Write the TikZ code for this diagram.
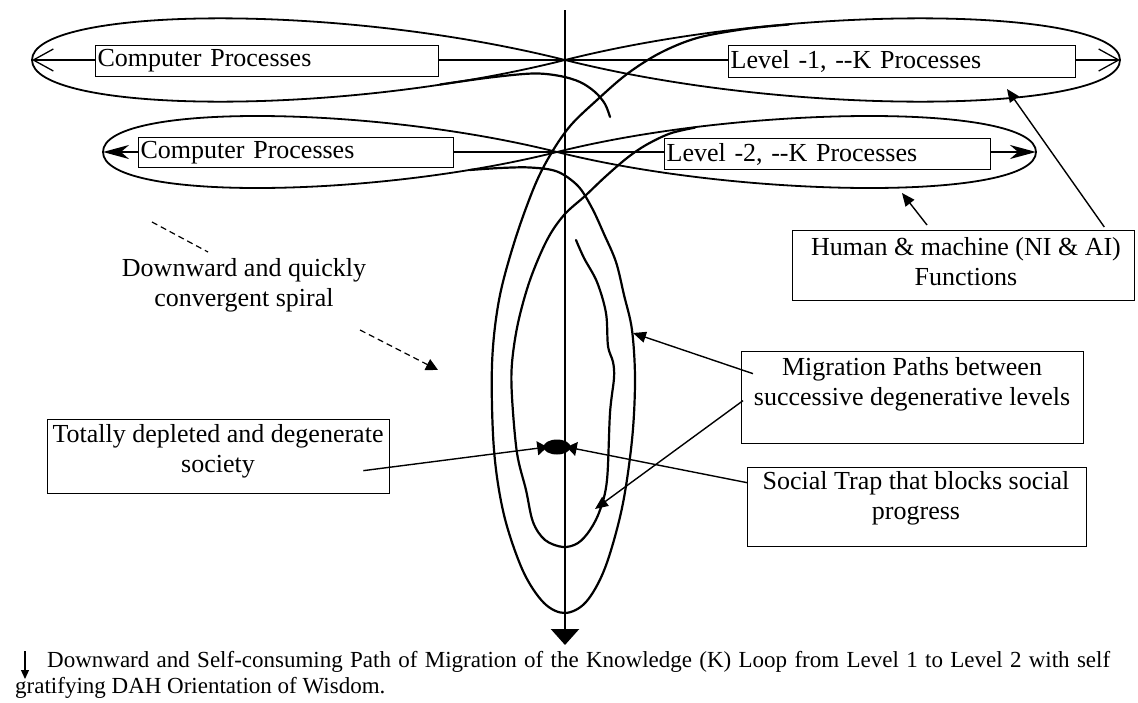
\documentclass[tikz,border=0pt]{standalone}
\usepackage{fontspec}
\setmainfont{Liberation Serif}
\usetikzlibrary{arrows.meta,shapes.geometric,calc}
\begin{document}
\begin{tikzpicture}[x=1pt,y=-1pt,
  lobe/.style={line width=1.8pt},
  spiral/.style={line width=2.2pt, line cap=round, line join=round},
  boxframe/.style={draw, line width=1.3pt, fill=white, inner sep=0pt, anchor=north west},
  onebox/.style={boxframe, inner xsep=2pt, align=left, font=\fontsize{26}{30}\selectfont},
  boxtext/.style={inner sep=0pt, align=center, font=\fontsize{26}{30}\selectfont},
  conn/.style={line width=1.4pt},
  headed/.style={-{Triangle[length=13pt,width=11pt]}},
  dashline/.style={line width=1.2pt, dash pattern=on 6pt off 4pt},
  legend/.style={anchor=base west, inner sep=0pt, font=\fontsize{23}{26}\selectfont},
]
\useasboundingbox (0,0) rectangle (1138,702);

% key points
\coordinate (c1) at (565,60);
\coordinate (lt1) at (32,60);
\coordinate (rt1) at (1120,60);
\coordinate (c2) at (557,152);
\coordinate (lt2) at (103,152);
\coordinate (rt2) at (1036,152);
\coordinate (axtop) at (565,10);
\coordinate (axbot) at (565,645);

% central axis
\draw[line width=2.4pt, -{Triangle[length=16pt,width=28pt]}] (axtop) -- (axbot);

% level 1 figure-eight loop
\draw[lobe] (c1) .. controls (330,1) and (32,8) .. (lt1)
  .. controls (32,112) and (330,119) .. (c1)
  .. controls (800,1) and (1120,8) .. (rt1)
  .. controls (1120,112) and (800,119) .. (c1);
% level 2 figure-eight loop
\draw[lobe] (c2) .. controls (370,105) and (103,103) .. (lt2)
  .. controls (103,201) and (370,199) .. (c2)
  .. controls (744,105) and (1036,103) .. (rt2)
  .. controls (1036,201) and (744,199) .. (c2);

% process axes of both levels
\draw[line width=1.3pt, {Straight Barb[length=20pt,width=22pt]}-{Straight Barb[length=20pt,width=22pt]}] (lt1) -- (rt1);
\draw[line width=1.6pt, {Stealth[length=26pt,width=14pt,inset=8pt]}-{Stealth[length=26pt,width=14pt,inset=8pt]}] (lt2) -- (rt2);

% short hook below level 1
\draw[spiral] plot[smooth, tension=0.55] coordinates {(440,84.5) (490,77.5) (533,73.5) (560,76) (580,82) (595,92) (605,104) (610,117)};
% outer migration path
\draw[spiral] plot[smooth, tension=0.55] coordinates {(470,170) (500,168) (530,167.5) (557,171.5) (578,186) (592,208) (604,234) (616,262) (624,295) (632,330) (635,380) (632,440) (622,508) (605,568) (586,602) (565,613) (544,603) (523,571) (504,515) (494,450) (492,365) (499,300) (515,240) (535,185) (552,152) (571,125) (597,100) (627,74) (660,53) (697,38) (745,29) (789,24.5)};
% inner migration path
\draw[spiral] plot[smooth, tension=0.55] coordinates {(695,127.6) (670,133.5) (646,145) (627,158) (605,177) (585,196) (564,215) (547,240) (530,280) (518,323) (512,363) (512,397) (517,453) (526,490) (533,522) (545,540) (563,547) (578,543) (590,530) (600,510) (607,480) (610,413) (614,378) (613,362) (608,346) (606,313) (597,282) (584,258) (576,240)};

% process boxes
\node[onebox, text width=339pt, minimum height=31pt] (cp1) at (95,45) {Computer Processes};
\node[onebox, text width=343pt, minimum height=32pt] (lv1) at (728,45) {Level -1, -{}-K Processes};
\node[onebox, text width=311pt, minimum height=30pt] (cp2) at (138,137) {Computer Processes};
\node[onebox, text width=322pt, minimum height=31pt] (lv2) at (664,138) {Level -2, -{}-K Processes};

% annotation boxes
\node[boxframe, minimum width=342pt, minimum height=70pt] (hum) at (792,230) {};
\node[boxtext] (humtext) at (966,262) {Human \& machine (NI \& AI)\\Functions};
\node[boxframe, minimum width=342pt, minimum height=92pt] (mig) at (741,351) {};
\node[boxtext] (migtext) at (912,384) {Migration Paths between\\successive degenerative levels};
\node[boxframe, minimum width=339pt, minimum height=79pt] (soc) at (747,467) {};
\node[boxtext] (soctext) at (916,498) {Social Trap that blocks social\\progress};
\node[boxframe, minimum width=342pt, minimum height=74pt] (tot) at (47,419) {};
\node[boxtext] (tottext) at (218,451) {Totally depleted and degenerate\\society};
\node[boxtext] (spiraltext) at (244,285) {Downward and quickly\\convergent spiral};

% the social trap
\node[ellipse, fill=black, minimum width=27pt, minimum height=15pt, inner sep=0pt] (trap) at (557,447) {};

% arrow targets on the loops
\coordinate (h1) at (1007,89);
\coordinate (h2) at (902,193);
\coordinate (m1) at (633,333);
\coordinate (m2) at (595,509);

% connectors
\draw[conn, -{Triangle[length=10pt,width=14pt]}] ($(tot.east)+(-27,14)$) -- ($(trap.west)+(4,0)$);
\draw[conn, -{Triangle[length=10pt,width=14pt]}] ($(soc.west)+(0,-24.5)$) -- ($(trap.east)+(-4,0)$);
\draw[conn, headed] ($(mig.west)+(12,-24)$) -- (m1);
\draw[conn, headed] ($(mig.west)+(2,3)$) -- (m2);
\draw[conn, headed] ($(hum.north east)+(-31,-3)$) -- (h1);
\draw[conn, headed] ($(hum.north west)+(135,-5)$) -- (h2);

% dashed pointers around the spiral label
\coordinate (dA) at (152,222);
\coordinate (dB) at (208,252);
\coordinate (dC) at (360,330);
\coordinate (dD) at (438,370);
\draw[dashline] (dA) -- (dB);
\draw[dashline, -{Triangle[length=12pt,width=12pt]}] (dC) -- (dD);

% legend
\coordinate (la) at (25,651);
\coordinate (lb) at (25,679);
\node[legend] (cap1) at (47,667)
  {\makebox[1063pt][s]{Downward and Self-consuming Path of Migration of the Knowledge (K) Loop from Level 1 to Level 2 with self}};
\node[legend] (cap2) at (15,693) {gratifying DAH Orientation of Wisdom.};
\draw[line width=1.2pt, -{Triangle[length=9pt,width=8pt]}] (la) -- (lb);
\end{tikzpicture}
\end{document}
